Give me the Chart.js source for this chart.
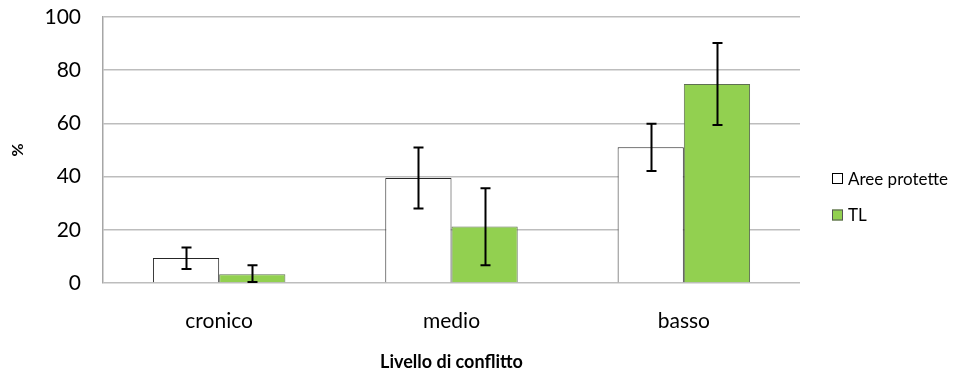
<!DOCTYPE html>
<html>
<head>
<meta charset="utf-8">
<script src="https://cdn.jsdelivr.net/npm/chart.js@4/dist/chart.umd.min.js"></script>
<style>
  html, body { margin: 0; padding: 0; background: #ffffff; }
  #wrap { width: 958px; height: 376px; }
</style>
</head>
<body>
<div id="wrap"><canvas id="c" width="958" height="376"></canvas></div>
<script>
// Livello di conflitto: percentuali con barre d'errore
const categories = ['cronico', 'medio', 'basso'];
const seriesNames = ['Aree protette', 'TL'];

const areeProtette = [9.4, 39.5, 51.0];
const areeLow      = [5.3, 28.0, 42.1];
const areeHigh     = [13.3, 50.9, 59.9];

const tl     = [3.3, 21.2, 74.8];
const tlLow  = [0.4, 6.7, 59.4];
const tlHigh = [6.7, 35.6, 90.2];

const yTicks = [0, 20, 40, 60, 80, 100];

const FONT = 'Lato, "DejaVu Sans", sans-serif';

// Error bars: vertical whisker with caps, drawn from each bar's x and the y scale
const errorBars = {
  id: 'errorBars',
  afterDatasetsDraw(chart) {
    const ctx = chart.ctx;
    const y = chart.scales.y;
    chart.data.datasets.forEach((ds, i) => {
      const meta = chart.getDatasetMeta(i);
      meta.data.forEach((bar, j) => {
        const top = y.getPixelForValue(ds.errHigh[j]);
        const bot = y.getPixelForValue(ds.errLow[j]);
        const x = Math.round(bar.x) + 0.5;
        const cap = 5;
        ctx.save();
        ctx.strokeStyle = '#000000';
        ctx.lineWidth = 2;
        ctx.beginPath();
        ctx.moveTo(x, top); ctx.lineTo(x, bot);
        ctx.moveTo(x - cap, top); ctx.lineTo(x + cap, top);
        ctx.moveTo(x - cap, bot); ctx.lineTo(x + cap, bot);
        ctx.stroke();
        ctx.restore();
      });
    });
  }
};

// Legend on the right, beside the plot area
const sideLegend = {
  id: 'sideLegend',
  afterDraw(chart) {
    const ctx = chart.ctx;
    const area = chart.chartArea;
    const x0 = area.right + 32;
    const yStart = 178.5;
    const gap = 36.5;
    ctx.save();
    ctx.font = '17px ' + FONT;
    ctx.textBaseline = 'middle';
    ctx.textAlign = 'left';
    chart.data.datasets.forEach((ds, i) => {
      const cy = yStart + i * gap;
      ctx.fillStyle = ds.backgroundColor;
      ctx.fillRect(x0, cy - 5.5, 11, 11);
      ctx.strokeStyle = ds.legendBorder;
      ctx.lineWidth = 1;
      ctx.strokeRect(x0 + 0.5, cy - 5.5 + 0.5, 10, 10);
      ctx.fillStyle = '#000000';
      ctx.fillText(ds.label, x0 + 16, cy + 1);
    });
    ctx.restore();
  }
};

new Chart(document.getElementById('c'), {
  type: 'bar',
  data: {
    labels: categories,
    datasets: [
      {
        label: seriesNames[0],
        data: areeProtette,
        errLow: areeLow,
        errHigh: areeHigh,
        backgroundColor: '#ffffff',
        borderColor: '#262626',
        legendBorder: '#000000',
        borderWidth: 1,
        categoryPercentage: 0.57,
        barPercentage: 1.0
      },
      {
        label: seriesNames[1],
        data: tl,
        errLow: tlLow,
        errHigh: tlHigh,
        backgroundColor: '#92d050',
        borderColor: '#5f6f52',
        legendBorder: '#555555',
        borderWidth: 1,
        categoryPercentage: 0.57,
        barPercentage: 1.0
      }
    ]
  },
  options: {
    responsive: false,
    devicePixelRatio: 1,
    animation: false,
    layout: { padding: { top: 17, right: 158, left: 0, bottom: 0 } },
    plugins: {
      legend: { display: false },
      tooltip: { enabled: false }
    },
    scales: {
      x: {
        grid: { display: false, drawTicks: false },
        border: { display: false },
        ticks: {
          color: '#000000',
          font: { family: FONT, size: 21 },
          padding: 26
        },
        title: {
          display: true,
          text: 'Livello di conflitto',
          color: '#000000',
          font: { family: FONT, size: 18, weight: 'bold' },
          padding: { top: 0, bottom: 3 }
        },
        afterFit(scale) { scale.height = 93; }
      },
      y: {
        min: 0,
        max: 100,
        afterBuildTicks(scale) { scale.ticks = yTicks.map(v => ({ value: v })); },
        grid: { color: '#bdbdbd', lineWidth: 1.5, drawTicks: false },
        border: { display: true, color: '#a6a6a6', width: 1.5 },
        ticks: {
          color: '#000000',
          font: { family: FONT, size: 21 },
          padding: 22
        },
        title: {
          display: true,
          text: '%',
          color: '#000000',
          font: { family: FONT, size: 16, weight: 'bold' },
          padding: { top: 8, bottom: 0 }
        },
        afterFit(scale) {
          scale.width = 103;
          scale.paddingTop = 0;
          scale.paddingBottom = 0;
        }
      }
    }
  },
  plugins: [errorBars, sideLegend]
});
</script>
</body>
</html>
